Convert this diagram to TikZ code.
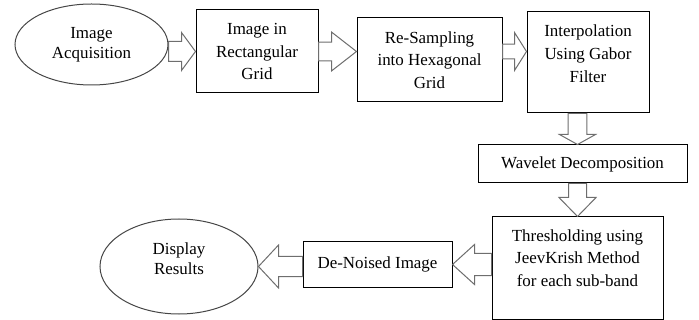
\documentclass[tikz,border=0pt]{standalone}
\usepackage{fontspec}
\setmainfont{Liberation Serif}
\usepackage{tikz}
\usetikzlibrary{shapes.geometric, calc}
\definecolor{arrowgray}{RGB}{110, 110, 110}
\definecolor{ovalgray}{RGB}{70, 70, 70}

\begin{document}
\begin{tikzpicture}[
    x=0.75pt, y=-0.75pt,
    stage/.style={draw, line width=0.75pt, inner sep=0pt, text centered, align=center, font=\fontsize{12.7}{17}\selectfont},
    terminal/.style={ellipse, draw=ovalgray, line width=0.75pt, inner sep=0pt, align=center, font=\fontsize{12.7}{15}\selectfont},
    fatarrow/.style n args={3}{draw=arrowgray, fill=white, line width=0.75pt,
        to path={($(\tikztostart)!#1!90:(\tikztotarget)$)
            -- ($(\tikztotarget)!#3!(\tikztostart)!#1!90:(\tikztotarget)$)
            -- ($(\tikztotarget)!#3!(\tikztostart)!#2!90:(\tikztotarget)$)
            -- (\tikztotarget)
            -- ($(\tikztotarget)!#3!(\tikztostart)!#2!-90:(\tikztotarget)$)
            -- ($(\tikztotarget)!#3!(\tikztostart)!#1!-90:(\tikztotarget)$)
            -- ($(\tikztostart)!#1!-90:(\tikztotarget)$) -- cycle}}
]
\useasboundingbox (0, 0) rectangle (699, 320);

% Top row
\node[terminal, minimum width=114.75pt, minimum height=60.75pt] (acquire) at (91.5, 44.5) {Image\\ Acquisition};
\node[stage, minimum width=91.5pt, minimum height=62.25pt] (rectgrid) at (257, 51.5) {Image in\\ Rectangular\\ Grid};
\node[stage, minimum width=108.75pt, minimum height=63pt] (resample) at (429.5, 60) {Re-Sampling\\ into Hexagonal\\ Grid};
\node[stage, minimum width=91.5pt, minimum height=75.75pt] (gabor) at (588, 62.5) {Interpolation\\ Using Gabor\\ Filter\\[-3.5pt]~};

% Right column
\node[stage, minimum width=156.75pt, minimum height=28.5pt] (wavelet) at (582.5, 164) {Wavelet Decomposition};
\node[stage, minimum width=128.25pt, minimum height=76.5pt] (threshold) at (577.5, 268) {Thresholding using\\ JeevKrish Method\\ for each sub-band\\[-2pt]~};

% Bottom row
\node[stage, minimum width=111.75pt, minimum height=33.75pt] (denoised) at (377.5, 264.5) {De-Noised Image};
\node[terminal, minimum width=118.5pt, minimum height=71.25pt] (display) at (179, 266.5) {Display\\ Results\\[-3pt]~};

% Block arrows
\draw[fatarrow={7.5pt}{14.25pt}{10.5pt}] (acquire.east |- rectgrid.west) to (rectgrid.west);
\draw[fatarrow={7.1pt}{14.6pt}{18.75pt}] (rectgrid.east) to (rectgrid.east -| resample.west);
\draw[fatarrow={5.6pt}{14.25pt}{9pt}] (resample.east |- rectgrid.east) to (gabor.west |- rectgrid.east);
\draw[fatarrow={7.1pt}{13.5pt}{7.5pt}] (gabor.south -| threshold.north) to (wavelet.north -| threshold.north);
\draw[fatarrow={6.75pt}{13.9pt}{14.25pt}] (wavelet.south -| threshold.north) to (threshold.north);
\draw[fatarrow={8.25pt}{15pt}{16.5pt}] (threshold.west |- denoised.east) to (denoised.east);
\draw[fatarrow={7.5pt}{16.1pt}{15pt}] (denoised.west |- display.east) to (display.east);

\end{tikzpicture}
\end{document}
